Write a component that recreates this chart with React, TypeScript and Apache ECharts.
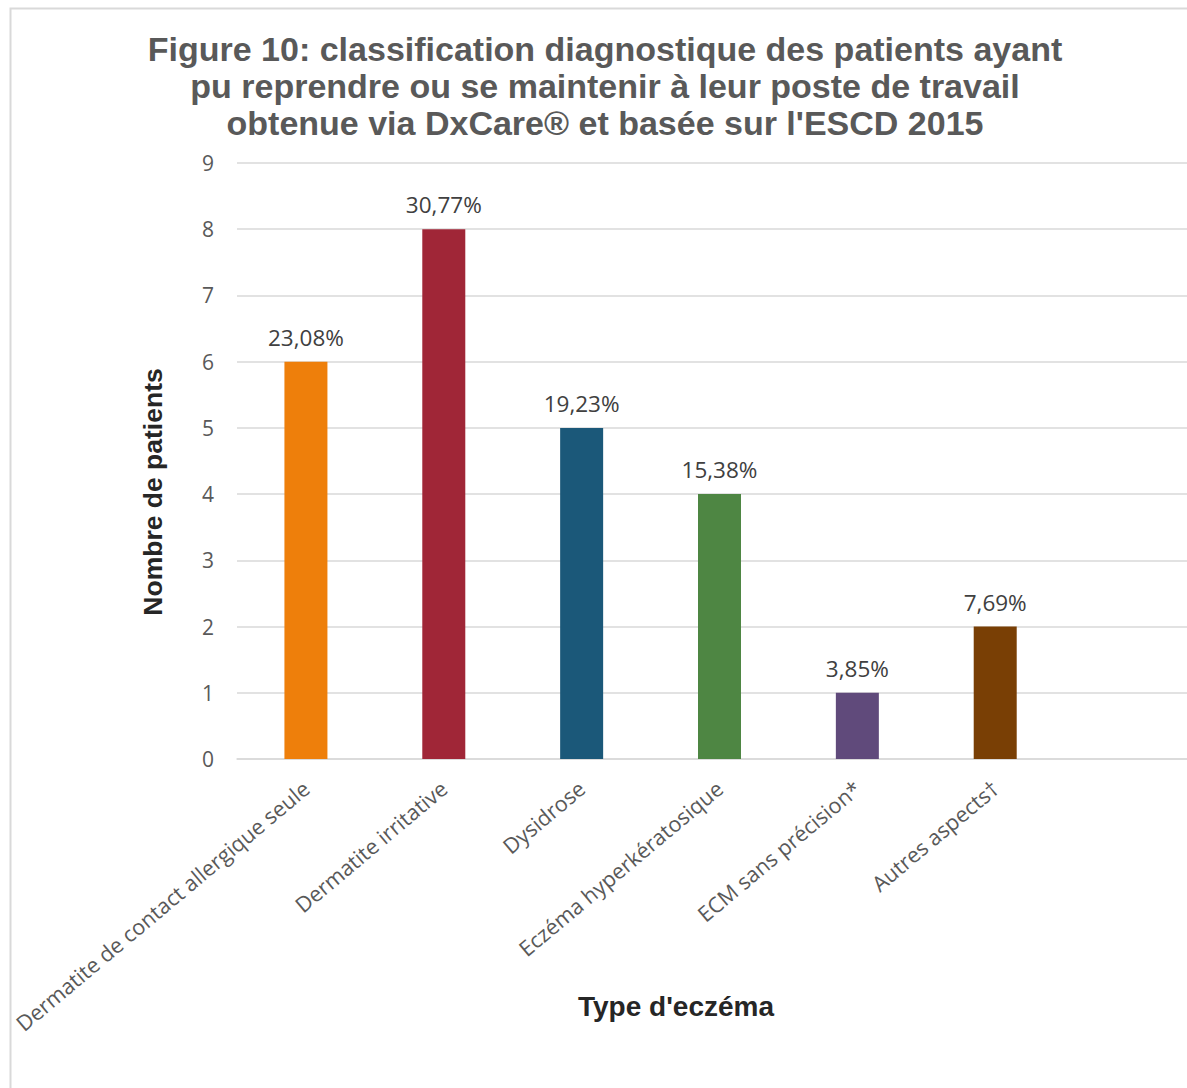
import React, { useEffect, useRef } from "react";
import * as echarts from "echarts";

const categories = [
  "Dermatite de contact allergique seule",
  "Dermatite irritative",
  "Dysidrose",
  "Eczéma hyperkératosique",
  "ECM sans précision*",
  "Autres aspects†",
  "",
];
const patients = [6, 8, 5, 4, 1, 2, null];
const percentLabels = ["23,08%", "30,77%", "19,23%", "15,38%", "3,85%", "7,69%", ""];
const barColors = ["#EE7F0B", "#A02637", "#1B5879", "#4E8643", "#604A7B", "#793F05", "#999999"];
const yTicks = { min: 0, max: 9, interval: 1 };

const titleLines = [
  "Figure 10: classification diagnostique des patients ayant",
  "pu reprendre ou se maintenir à leur poste de travail",
  "obtenue via DxCare® et basée sur l'ESCD 2015",
];

export default function App() {
  const ref = useRef<HTMLDivElement>(null);
  useEffect(() => {
    document.body.style.margin = "0";
    document.body.style.overflow = "hidden";
    if (!ref.current) return;
    const chart = echarts.init(ref.current, null, { renderer: "svg" });
    chart.setOption({
      animation: false,
      backgroundColor: "#ffffff",
      title: {
        text: titleLines.join("\n"),
        left: 600,
        textAlign: "center",
        top: 25,
        textStyle: {
          fontFamily: "Liberation Sans, Arial, sans-serif",
          fontWeight: "bold",
          fontSize: 34,
          lineHeight: 37,
          color: "#595959",
        },
      },
      graphic: [
        {
          type: "rect",
          shape: { x: 10.5, y: 8.5, width: 1250, height: 1100 },
          style: { fill: "none", stroke: "#d9d9d9", lineWidth: 2 },
          silent: true,
        },
        {
          type: "text",
          x: 153,
          y: 492,
          rotation: Math.PI / 2,
          style: {
            text: "Nombre de patients",
            fontFamily: "Liberation Sans, Arial, sans-serif",
            fontWeight: "bold",
            fontSize: 26.5,
            fill: "#262626",
            align: "center",
            verticalAlign: "middle",
          },
        },
        {
          type: "text",
          x: 676,
          y: 1006,
          style: {
            text: "Type d'eczéma",
            fontFamily: "Liberation Sans, Arial, sans-serif",
            fontWeight: "bold",
            fontSize: 28,
            fill: "#262626",
            align: "center",
            verticalAlign: "middle",
          },
        },
      ],
      grid: { left: 237, right: 0, top: 163, bottom: 329, containLabel: false },
      xAxis: {
        type: "category",
        data: categories,
        axisLine: { lineStyle: { color: "#d9d9d9", width: 1.5 } },
        axisTick: { show: false },
        axisLabel: {
          interval: 0,
          rotate: 40,
          margin: 26,
          fontFamily: "Open Sans, sans-serif",
          fontSize: 21.5,
          color: "#595959",
        },
      },
      yAxis: {
        type: "value",
        min: yTicks.min,
        max: yTicks.max,
        interval: yTicks.interval,
        axisLine: { show: false },
        axisTick: { show: false },
        splitLine: { lineStyle: { color: "#d9d9d9", width: 1.5 } },
        axisLabel: {
          margin: 23,
          fontFamily: "Open Sans, sans-serif",
          fontSize: 21,
          color: "#595959",
        },
      },
      series: [
        {
          type: "bar",
          barWidth: 43,
          data: patients.map((v, i) => ({
            value: v,
            itemStyle: { color: barColors[i] },
          })),
          label: {
            show: true,
            position: "top",
            distance: 13,
            fontFamily: "Open Sans, sans-serif",
            fontSize: 22.5,
            color: "#404040",
            formatter: (p: any) => percentLabels[p.dataIndex],
          },
        },
      ],
    });
    return () => chart.dispose();
  }, []);
  return <div ref={ref} style={{ width: 1202, height: 1088 }} />;
}
